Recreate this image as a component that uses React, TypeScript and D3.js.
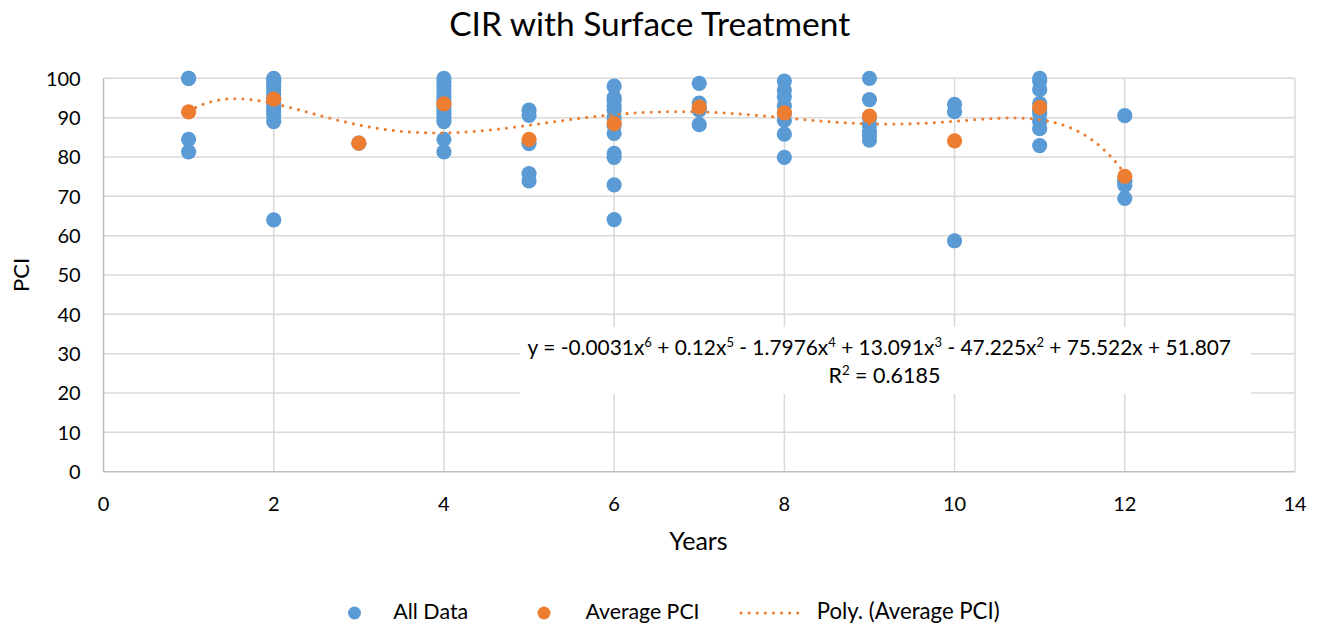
import React, { useLayoutEffect, useRef, useState } from 'react';
import * as d3 from 'd3';

// ---------- data ----------
const chartTitle = 'CIR with Surface Treatment';
const xAxisTitle = 'Years';
const yAxisTitle = 'PCI';

const allDataYears = [
  1, 1, 1, 1,
  2, 2, 2, 2, 2, 2, 2, 2, 2, 2, 2, 2, 2,
  3,
  4, 4, 4, 4, 4, 4, 4, 4, 4, 4, 4, 4, 4, 4,
  5, 5, 5, 5, 5,
  6, 6, 6, 6, 6, 6, 6, 6, 6, 6, 6, 6,
  7, 7, 7, 7, 7,
  8, 8, 8, 8, 8, 8, 8, 8,
  9, 9, 9, 9, 9, 9, 9,
  10, 10, 10,
  11, 11, 11, 11, 11, 11, 11, 11, 11,
  12, 12, 12, 12, 12,
];
const allDataPCI = [
  100, 100, 84.5, 81.3,
  100, 99.5, 99, 98, 97, 96, 95, 93.5, 92.5, 91.5, 90.5, 89, 64,
  83.5,
  100, 99, 98, 97, 96, 95, 94, 93, 92, 91, 90, 89, 84.5, 81.3,
  91.9, 90.6, 83.4, 75.8, 73.9,
  98, 95.1, 94.4, 93, 91.9, 90, 88, 86, 80.9, 79.9, 72.9, 64.1,
  98.7, 93.7, 92.5, 91.9, 88.2,
  99.3, 97, 95.3, 93, 91, 89.3, 85.8, 79.9,
  100, 94.6, 90, 88.1, 86.5, 85.5, 84.3,
  93.4, 91.5, 58.7,
  100, 99.3, 97.1, 93.6, 92, 91, 89, 87.2, 82.9,
  90.5, 74, 73.7, 72.8, 69.5,
];

const averageYears = [1, 2, 3, 4, 5, 6, 7, 8, 9, 10, 11, 12];
const averagePCI = [91.45, 94.7, 83.5, 93.5, 84.5, 88.5, 92.7, 91.2, 90.4, 84.1, 92.6, 75.1];

const xTicks = [0, 2, 4, 6, 8, 10, 12, 14];
const yTicks = [0, 10, 20, 30, 40, 50, 60, 70, 80, 90, 100];

const legendLabels = ['All Data', 'Average PCI', 'Poly. (Average PCI)'];
const trendPolyDegree = 6;

// equation label pieces: [text, superscript]
const equationParts: [string, string][] = [
  ['y = -0.0031x', '6'],
  [' + 0.12x', '5'],
  [' - 1.7976x', '4'],
  [' + 13.091x', '3'],
  [' - 47.225x', '2'],
  [' + 75.522x + 51.807', ''],
];
const rSquaredParts: [string, string][] = [
  ['R', '2'],
  [' = 0.6185', ''],
];

// ---------- styles ----------
const BLUE = '#5B9BD5';
const ORANGE = '#ED7D31';
const GRID = '#D9D9D9';
const AXIS = '#BFBFBF';
const FONT = 'Lato, "Open Sans", "Noto Sans", sans-serif';

// least squares polynomial fit (what the spreadsheet trendline does)
function polyFit(xs: number[], ys: number[], deg: number) {
  const mx = d3.mean(xs) as number;
  const sx = ((d3.max(xs) as number) - (d3.min(xs) as number)) / 2;
  const n = deg + 1;
  const A: number[][] = Array.from({ length: n }, () => new Array(n + 1).fill(0));
  xs.forEach((xv, k) => {
    const t = (xv - mx) / sx;
    const p: number[] = [];
    for (let i = 0; i < n; i++) p.push(Math.pow(t, i));
    for (let i = 0; i < n; i++) {
      for (let j = 0; j < n; j++) A[i][j] += p[i] * p[j];
      A[i][n] += p[i] * ys[k];
    }
  });
  for (let c = 0; c < n; c++) {
    let piv = c;
    for (let r = c + 1; r < n; r++) if (Math.abs(A[r][c]) > Math.abs(A[piv][c])) piv = r;
    [A[c], A[piv]] = [A[piv], A[c]];
    for (let r = 0; r < n; r++) {
      if (r === c) continue;
      const f = A[r][c] / A[c][c];
      for (let k = c; k <= n; k++) A[r][k] -= f * A[c][k];
    }
  }
  const coef = A.map((row, i) => row[n] / row[i]);
  return (xv: number) => {
    const t = (xv - mx) / sx;
    let s = 0;
    for (let i = n - 1; i >= 0; i--) s = s * t + coef[i];
    return s;
  };
}

type FitProps = {
  x: number;
  y: number;
  width: number;
  fontSize: number;
  anchor?: 'start' | 'middle' | 'end';
  children: React.ReactNode;
};

function FitText({ x, y, width, fontSize, anchor = 'middle', children }: FitProps) {
  const ref = useRef<SVGTextElement>(null);
  const [fs, setFs] = useState(fontSize);
  useLayoutEffect(() => {
    const el = ref.current;
    if (!el) return;
    const len = el.getComputedTextLength();
    if (len > 0) {
      const nf = (fs * width) / len;
      if (Math.abs(nf - fs) > 0.05) setFs(nf);
    }
  }, [fs, width]);
  return (
    <text ref={ref} x={x} y={y} textAnchor={anchor} fontSize={fs} fontFamily={FONT} fill="#000">
      {children}
    </text>
  );
}

function partsToTspans(parts: [string, string][]) {
  const out: React.ReactNode[] = [];
  let raised = false;
  parts.forEach(([txt, sup], i) => {
    out.push(
      <tspan key={'t' + i} dy={raised ? '0.4em' : undefined}>
        {txt}
      </tspan>
    );
    raised = false;
    if (sup) {
      out.push(
        <tspan key={'s' + i} fontSize="0.62em" dy="-0.645em">
          {sup}
        </tspan>
      );
      raised = true;
    }
  });
  return out;
}

export default function App() {
  const W = 1326;
  const H = 627;
  const left = 103.5;
  const right = 1295;
  const top = 78.3;
  const bottom = 471.7;

  const x = d3.scaleLinear().domain([0, 14]).range([left, right]);
  const y = d3.scaleLinear().domain([0, 100]).range([bottom, top]);

  const trend = polyFit(averageYears, averagePCI, trendPolyDegree);
  const [x0, x1] = d3.extent(averageYears) as [number, number];
  const trendPts = d3.range(x0, x1 + 0.0001, 0.02).map((v) => [v, trend(v)] as [number, number]);
  const trendPath = d3
    .line<[number, number]>()
    .x((d) => x(d[0]))
    .y((d) => y(d[1]))(trendPts) as string;

  const legendY = 613;

  return (
    <svg width={W} height={H} style={{ display: 'block', position: 'absolute', left: 0, top: 0, background: '#fff' }}>
      <rect x={0} y={0} width={W} height={H} fill="#fff" />
      {/* title */}
      <FitText x={649.7} y={36} width={401} fontSize={32}>{chartTitle}</FitText>

      {/* gridlines */}
      {yTicks.filter((t) => t !== 0).map((t) => (
        <line key={'hy' + t} x1={left} x2={right} y1={y(t)} y2={y(t)} stroke={GRID} strokeWidth={1.5} />
      ))}
      {xTicks.filter((t) => t !== 0).map((t) => (
        <line key={'vx' + t} x1={x(t)} x2={x(t)} y1={top} y2={bottom} stroke={GRID} strokeWidth={1.5} />
      ))}
      {/* axes */}
      <line x1={left} x2={right} y1={bottom} y2={bottom} stroke={AXIS} strokeWidth={1.5} />
      <line x1={left} x2={left} y1={top} y2={bottom} stroke={AXIS} strokeWidth={1.5} />

      {/* tick labels */}
      {yTicks.map((t) => (
        <text key={'yl' + t} x={80.7} y={y(t)} dy="0.36em" textAnchor="end" fontSize={20} fontFamily={FONT} fill="#000">
          {t}
        </text>
      ))}
      {xTicks.map((t) => (
        <text key={'xl' + t} x={x(t)} y={510.7} textAnchor="middle" fontSize={20} fontFamily={FONT} fill="#000">
          {t}
        </text>
      ))}

      {/* axis titles */}
      <FitText x={698.5} y={550} width={58.4} fontSize={23}>{xAxisTitle}</FitText>
      <text
        transform="translate(29,275) rotate(-90)"
        textAnchor="middle"
        fontSize={22}
        fontFamily={FONT}
        fill="#000"
      >
        {yAxisTitle}
      </text>

      {/* all data */}
      {allDataPCI.map((v, i) => (
        <circle key={'a' + i} cx={x(allDataYears[i])} cy={y(v)} r={7.6} fill={BLUE} />
      ))}

      {/* trend line */}
      <path d={trendPath} fill="none" stroke={ORANGE} strokeWidth={3} strokeDasharray="0.1 8" strokeLinecap="round" />

      {/* averages */}
      {averagePCI.map((v, i) => (
        <circle key={'m' + i} cx={x(averageYears[i])} cy={y(v)} r={7.6} fill={ORANGE} />
      ))}

      {/* trendline label */}
      <rect x={520} y={327} width={731} height={67} fill="#fff" />
      <FitText x={879.3} y={355} width={704} fontSize={20}>
        {partsToTspans(equationParts)}
      </FitText>
      <FitText x={884.4} y={383.3} width={112} fontSize={20}>
        {partsToTspans(rSquaredParts)}
      </FitText>

      {/* legend */}
      <circle cx={354.5} cy={legendY} r={6.5} fill={BLUE} />
      <FitText x={393.3} y={619.3} width={75} fontSize={20} anchor="start">{legendLabels[0]}</FitText>
      <circle cx={544} cy={legendY} r={6.5} fill={ORANGE} />
      <FitText x={585.6} y={619.3} width={114} fontSize={20} anchor="start">{legendLabels[1]}</FitText>
      <line x1={741} x2={805} y1={legendY} y2={legendY} stroke={ORANGE} strokeWidth={3} strokeDasharray="0.1 8" strokeLinecap="round" />
      <FitText x={816.7} y={619.3} width={183} fontSize={20} anchor="start">{legendLabels[2]}</FitText>
    </svg>
  );
}
